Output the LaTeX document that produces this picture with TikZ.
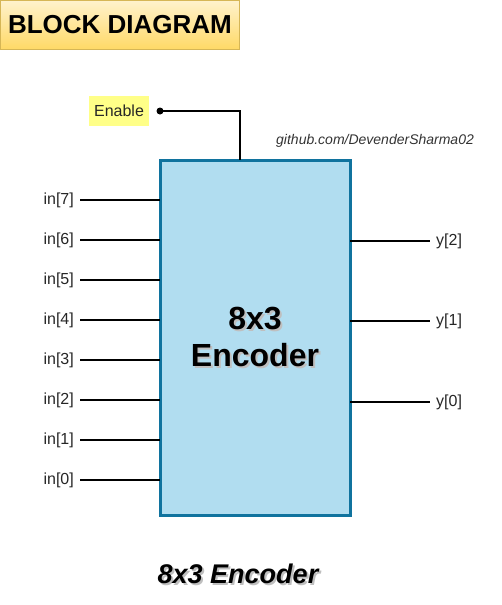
\documentclass[tikz,border=0pt]{standalone}
\usepackage{fontspec}
\setmainfont{Liberation Sans}
\usepackage{xcolor}
\usepackage{tikz}

\definecolor{encfill}{HTML}{B1DDF0}
\definecolor{encline}{HTML}{10739E}
\definecolor{titletop}{HTML}{FFF2CC}
\definecolor{titlebot}{HTML}{FFD966}
\definecolor{titleline}{HTML}{D6B656}
\definecolor{enfill}{HTML}{FFFF88}

\newcommand{\px}[2]{\fontsize{#1}{#2}\selectfont}
\newcommand{\shadowed}[1]{\leavevmode\rlap{\hspace{2pt}\raisebox{-2pt}{\color{black!25}#1}}#1}

\tikzset{
  wire/.style={line width=2pt},
  pinlabel/.style={font=\px{16}{19}, inner xsep=6pt, inner ysep=2pt, text=black!85},
}

\begin{document}
\begin{tikzpicture}[x=1pt,y=-1pt]
\useasboundingbox (0,0) rectangle (501,605);

% title
\node[draw=titleline, top color=titletop, bottom color=titlebot, minimum width=239, minimum height=49, font=\bfseries\px{26}{30}] (title) at (120,25) {BLOCK DIAGRAM};

% encoder block
\node[draw=encline, fill=encfill, line width=3pt, minimum width=190, minimum height=355, outer sep=0pt, align=center, font=\bfseries\px{32}{37}] (enc) at (255,337.5) {\shadowed{8x3}\\\shadowed{Encoder}};

\node[anchor=west, inner sep=0pt, font=\itshape\px{14}{16}, text=black!80] (gh) at (276,141) {github.com/DevenderSharma02};

% enable
\node[fill=enfill, minimum width=60, minimum height=30, font=\px{16}{19}, text=black!85] (en) at (119,111) {Enable};
\coordinate (endot) at (160,111);
\coordinate (entop) at (240,160);
\draw[line width=2.5pt] (endot) -| (entop);
\fill (endot) circle (3.5);

% inputs
\foreach \i in {0,...,7}{
  \node[pinlabel, anchor=east] (in\i) at (80,{480-40*\i}) {in[\i]};
  \draw[wire] (in\i.east) -- (enc.west |- in\i.east);
}

% outputs
\foreach \i/\y in {2/241,1/321,0/402}{
  \node[pinlabel, anchor=west] (y\i) at (430,\y) {y[\i]};
  \draw[wire] (enc.east |- y\i.west) -- (y\i.west);
}

\node[font=\bfseries\itshape\px{27}{31}] (cap) at (238,575) {\shadowed{8x3 Encoder}};
\end{tikzpicture}
\end{document}
